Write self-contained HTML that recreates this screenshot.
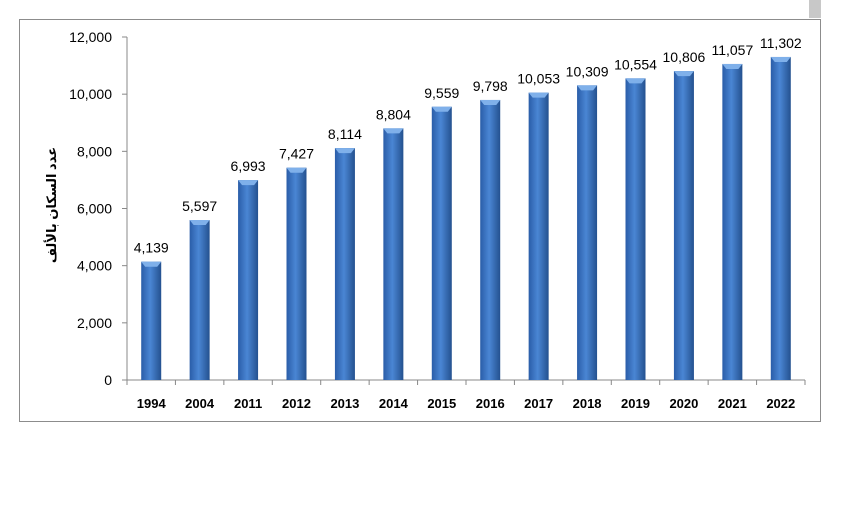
<!DOCTYPE html>
<html><head><meta charset="utf-8"><style>
body{margin:0;background:#fff;width:850px;height:508px;overflow:hidden;font-family:"Liberation Sans",sans-serif}
</style></head><body>
<svg width="850" height="508">
<defs>
<linearGradient id="bg" x1="0" x2="1" y1="0" y2="0">
<stop offset="0" stop-color="#2a5da8"/><stop offset="0.45" stop-color="#4a86d4"/><stop offset="1" stop-color="#24518f"/>
</linearGradient>
</defs>
<rect x="809" y="0" width="12" height="18" fill="#c8c8c8"/>
<rect x="19.5" y="19.5" width="801" height="402" fill="#fff" stroke="#8c8c8c"/>
<g id="chart"></g>
</svg>
<script>
const categories=["1994","2004","2011","2012","2013","2014","2015","2016","2017","2018","2019","2020","2021","2022"];
const values=[4139,5597,6993,7427,8114,8804,9559,9798,10053,10309,10554,10806,11057,11302];
const yTicks=[0,2000,4000,6000,8000,10000,12000];
const g=document.getElementById('chart');
const NS='http://www.w3.org/2000/svg';
const x0=127,x1=805,y0=380,y1=37,yMax=12000;
const y=v=>y0-(v/yMax)*(y0-y1);
const band=(x1-x0)/categories.length;
const xc=i=>x0+band*(i+0.5);
function mk(t,a){const e=document.createElementNS(NS,t);for(const k in a)e.setAttribute(k,a[k]);g.appendChild(e);return e;}
const fmt=v=>v.toLocaleString('en-US');
let e=mk('line',{x1:x0,x2:x0,y1:y1,y2:y0,stroke:'#888'});


e=mk('line',{x1:x0,x2:x1,y1:y0,y2:y0,stroke:'#888'});


yTicks.forEach(t=>{
 mk('line',{x1:x0-5,x2:x0,y1:y(t),y2:y(t),stroke:'#888'});
 const tx=mk('text',{x:x0-15,y:y(t)+5,'text-anchor':'end','font-size':'14',fill:'#000'});
 tx.textContent=fmt(t);
 
 
});
for(let i=0;i<=categories.length;i++){mk('line',{x1:x0+band*i,x2:x0+band*i,y1:y0,y2:y0+5,stroke:'#888'});}
categories.forEach((c,i)=>{
 const v=values[i],cx=xc(i),w=20,top=y(v);
 const b=mk('rect',{x:cx-w/2,y:top,width:w,height:y0-top,fill:'url(#bg)'});
 
 
 mk('polygon',{points:`${cx-w/2},${top} ${cx+w/2},${top} ${cx+w/2-4},${top+5} ${cx-w/2+4},${top+5}`,fill:'#7fb0ea'});
 const l=mk('text',{x:cx,y:top-9,'text-anchor':'middle','font-size':'14',fill:'#000'});
 l.textContent=fmt(v);
 
 
 const xl=mk('text',{x:cx,y:408,'text-anchor':'middle','font-size':'13','font-weight':'bold',fill:'#000'});
 xl.textContent=c;
 
 
});
const at=mk('text',{x:0,y:0,'text-anchor':'middle','font-size':'13','font-weight':'bold',fill:'#000',transform:'translate(56,205) rotate(-90)','font-family':'"Liberation Sans","DejaVu Sans",sans-serif'});
at.textContent='عدد السكان بالألف';


</script>
</body></html>
